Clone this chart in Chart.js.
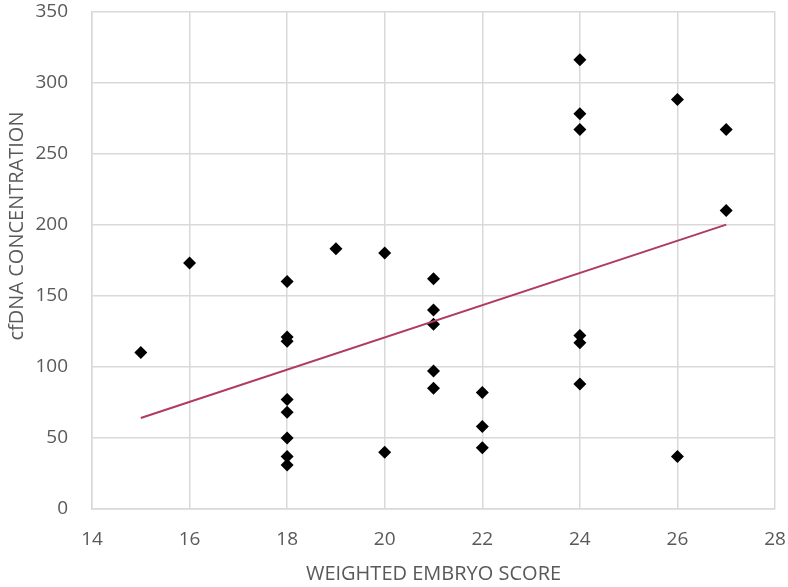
<!DOCTYPE html>
<html>
<head>
<meta charset="utf-8">
<script src="https://cdn.jsdelivr.net/npm/chart.js@4.4.1/dist/chart.umd.min.js"></script>
<style>
  html, body { margin: 0; padding: 0; background: #fff; }
  #wrap { width: 788px; height: 587px; position: relative; }
</style>
</head>
<body>
<div id="wrap"><canvas id="c"></canvas></div>
<script>
/* cfDNA vs weighted embryo score, scatter + linear trend */
const scoreX = [15, 16, 18, 18, 18, 18, 18, 18, 18, 18, 19, 20, 20, 21, 21, 21, 21, 21, 22, 22, 22, 24, 24, 24, 24, 24, 24, 26, 26, 27, 27];
const cfdnaY = [110, 173, 160, 121, 118, 77, 68, 50, 37, 31, 183, 180, 40, 162, 140, 130, 97, 85, 82, 58, 43, 316, 278, 267, 122, 117, 88, 288, 37, 267, 210];
const trendX = [15, 27];
const trendY = [64, 200];
const xTicks = [14, 16, 18, 20, 22, 24, 26, 28];
const yTicks = [0, 50, 100, 150, 200, 250, 300, 350];
const yTitle = "cfDNA CONCENTRATION";

const GRID = "#d9d9d9", TXT = "#595959";
const FONT = "'Open Sans', 'Liberation Sans', sans-serif";

// y title sits a bit above the plot's middle in the original, so draw it by hand
const yTitlePlugin = {
  id: "yTitle",
  afterDraw(chart) {
    const ctx = chart.ctx;
    ctx.save();
    ctx.translate(17, 226);
    ctx.rotate(-Math.PI / 2);
    ctx.font = `20px ${FONT}`;
    ctx.fillStyle = TXT;
    ctx.textAlign = "center";
    ctx.textBaseline = "middle";
    ctx.fillText(yTitle, 0, 0);
    ctx.restore();
  }
};

new Chart(document.getElementById("c"), {
  type: "scatter",
  data: {
    datasets: [
      { label: "cfDNA", data: scoreX.map((x, i) => ({ x, y: cfdnaY[i] })),
        pointStyle: "rectRot", pointRadius: 6.5, pointHoverRadius: 6.5,
        backgroundColor: "#000", borderColor: "#000", borderWidth: 0, order: 2 },
      { label: "trend", type: "line", data: trendX.map((x, i) => ({ x, y: trendY[i] })),
        borderColor: "#b03a62", borderWidth: 2, pointRadius: 0, fill: false, order: 1 }
    ]
  },
  options: {
    responsive: true, maintainAspectRatio: false, animation: false,
    layout: { padding: { top: 0, right: 13, left: 0, bottom: 0 } },
    plugins: { legend: { display: false }, tooltip: { enabled: false } },
    scales: {
      x: { type: "linear", min: 14, max: 28,
        afterBuildTicks: (s) => { s.ticks = xTicks.map((v) => ({ value: v })); },
        afterFit: (s) => { s.height = 78; },
        grid: { color: GRID, lineWidth: 1.5, drawTicks: true, tickLength: 19, tickColor: "rgba(0,0,0,0)" },
        border: { color: GRID, width: 1.5 },
        ticks: { color: TXT, padding: 0, font: { family: FONT, size: 19 } },
        title: { display: true, text: "WEIGHTED EMBRYO SCORE", color: TXT, padding: { top: 4, bottom: 1 }, font: { family: FONT, size: 20 } } },
      y: { min: 0, max: 350,
        afterBuildTicks: (s) => { s.ticks = yTicks.map((v) => ({ value: v })); },
        afterFit: (s) => { s.width = 92; },
        grid: { color: GRID, lineWidth: 1.5, drawTicks: true, tickLength: 24, tickColor: "rgba(0,0,0,0)" },
        border: { color: GRID, width: 1.5 },
        ticks: { color: TXT, padding: 0, font: { family: FONT, size: 19 } },
        title: { display: false } }
    }
  },
  plugins: [yTitlePlugin]
});
</script>
</body>
</html>
